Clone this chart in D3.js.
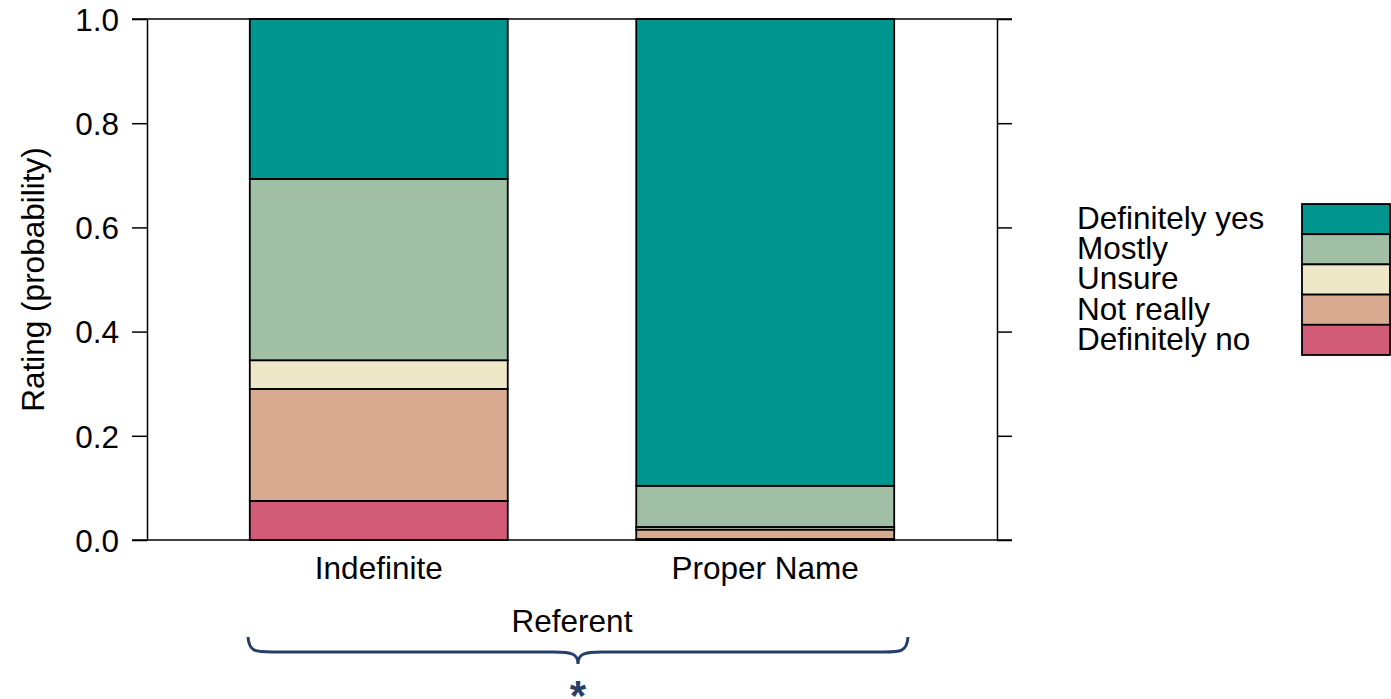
<!DOCTYPE html>
<html>
<head>
<meta charset="utf-8">
<script src="https://cdn.jsdelivr.net/npm/d3@7"></script>
<style>
  html, body { margin: 0; padding: 0; background: #fff; }
  svg { display: block; font-family: "Liberation Sans", Arial, sans-serif; }
</style>
</head>
<body>
<svg id="chart" width="1391" height="699"></svg>
<script>
// Response categories, bottom of the stack first
const levels = ["Definitely no", "Not really", "Unsure", "Mostly", "Definitely yes"];
const levelColors = ["#d25c78", "#d8aa8f", "#eee8c8", "#a0bfa5", "#00958f"];

// Referent conditions
const referents = ["Indefinite", "Proper Name"];

// Rating probabilities per referent, in the order of `levels`
const indefiniteValues = [0.075, 0.215, 0.055, 0.348, 0.307];
const properNameValues = [0.002, 0.018, 0.005, 0.079, 0.896];

const yTicks = [0, 0.2, 0.4, 0.6, 0.8, 1.0];

const rows = referents.map((r, i) => {
  const vals = i === 0 ? indefiniteValues : properNameValues;
  const o = { referent: r };
  levels.forEach((l, j) => o[l] = vals[j]);
  return o;
});

const svg = d3.select("#chart");
const plotLeft = 147, plotRight = 997, plotTop = 19, plotBottom = 540;
const font = 31.5;

const x = d3.scaleBand().domain(referents).range([plotLeft, plotRight])
  .paddingInner(0.3325).paddingOuter(0.266);
const y = d3.scaleLinear().domain([0, 1]).range([plotBottom, plotTop]);
const color = d3.scaleOrdinal().domain(levels).range(levelColors);

const stack = d3.stack().keys(levels)(rows);

// Stacked bars
svg.append("g").selectAll("g").data(stack).join("g")
  .attr("fill", d => color(d.key))
  .selectAll("rect").data(d => d).join("rect")
  .attr("x", d => x(d.data.referent))
  .attr("width", x.bandwidth())
  .attr("y", d => y(d[1]))
  .attr("height", d => y(d[0]) - y(d[1]))
  .attr("stroke", "#000")
  .attr("stroke-width", 1.8);

// Frame: left and right axes with outward ticks, top and bottom rules
const tickLen = 15;
const leftAxis = d3.axisLeft(y).tickValues(yTicks).tickFormat(d3.format(".1f"))
  .tickSize(tickLen).tickSizeOuter(0).tickPadding(13);
const gL = svg.append("g").attr("transform", `translate(${plotLeft},0)`).call(leftAxis);
gL.selectAll("text").attr("font-size", font).attr("fill", "#000")
  .attr("font-family", "Liberation Sans, Arial, sans-serif").attr("dy", "0.36em");
gL.selectAll("line, path").attr("stroke", "#000").attr("stroke-width", 1.5);

const rightAxis = d3.axisRight(y).tickValues(yTicks).tickFormat("")
  .tickSize(tickLen).tickSizeOuter(0);
const gR = svg.append("g").attr("transform", `translate(${plotRight},0)`).call(rightAxis);
gR.selectAll("line, path").attr("stroke", "#000").attr("stroke-width", 1.5);

svg.append("g").selectAll("line").data([0, 1]).join("line")
  .attr("x1", plotLeft - tickLen).attr("x2", plotRight + tickLen)
  .attr("y1", d => y(d)).attr("y2", d => y(d))
  .attr("stroke", "#000").attr("stroke-width", 1.5);

// Category labels
svg.append("g").selectAll("text").data(referents).join("text")
  .attr("x", d => x(d) + x.bandwidth() / 2)
  .attr("y", 579)
  .attr("text-anchor", "middle")
  .attr("font-size", font)
  .text(d => d);

// Axis titles
svg.append("text")
  .attr("x", (x(referents[0]) + x(referents[1]) + x.bandwidth()) / 2)
  .attr("y", 632)
  .attr("text-anchor", "middle")
  .attr("font-size", font)
  .text("Referent");

svg.append("text")
  .attr("transform", `translate(44,${(plotTop + plotBottom) / 2}) rotate(-90)`)
  .attr("text-anchor", "middle")
  .attr("font-size", font)
  .text("Rating (probability)");

// Brace under the axis title with significance marker
const bx0 = 248, bx1 = 908, by0 = 637, by1 = 652, byTip = 664;
const bm = (bx0 + bx1) / 2;
const brace = d3.path();
brace.moveTo(bx0, by0);
brace.bezierCurveTo(bx0 + 1, by1, bx0 + 8, by1, bx0 + 24, by1);
brace.lineTo(bm - 24, by1);
brace.bezierCurveTo(bm - 6, by1, bm, by1 + 2, bm, byTip);
brace.bezierCurveTo(bm, by1 + 2, bm + 6, by1, bm + 24, by1);
brace.lineTo(bx1 - 24, by1);
brace.bezierCurveTo(bx1 - 8, by1, bx1 - 1, by1, bx1, by0);
svg.append("path").attr("d", brace.toString())
  .attr("fill", "none").attr("stroke", "#253f6b").attr("stroke-width", 3);

svg.append("text")
  .attr("x", bm).attr("y", 710)
  .attr("text-anchor", "middle")
  .attr("font-size", 42)
  .attr("font-weight", "bold")
  .attr("fill", "#253f6b")
  .text("*");

// Legend, top category first
const legendOrder = levels.slice().reverse();
const lgTop = 204, lgRow = 30.2, lgBoxX = 1302, lgBoxW = 88, lgTextX = 1077;
const lg = svg.append("g");
lg.selectAll("rect").data(legendOrder).join("rect")
  .attr("x", lgBoxX).attr("width", lgBoxW)
  .attr("y", (d, i) => lgTop + i * lgRow).attr("height", lgRow)
  .attr("fill", d => color(d))
  .attr("stroke", "#000").attr("stroke-width", 1.8);
lg.selectAll("text").data(legendOrder).join("text")
  .attr("x", lgTextX)
  .attr("y", (d, i) => lgTop + i * lgRow + 25)
  .attr("font-size", font)
  .text(d => d);
</script>
</body>
</html>
